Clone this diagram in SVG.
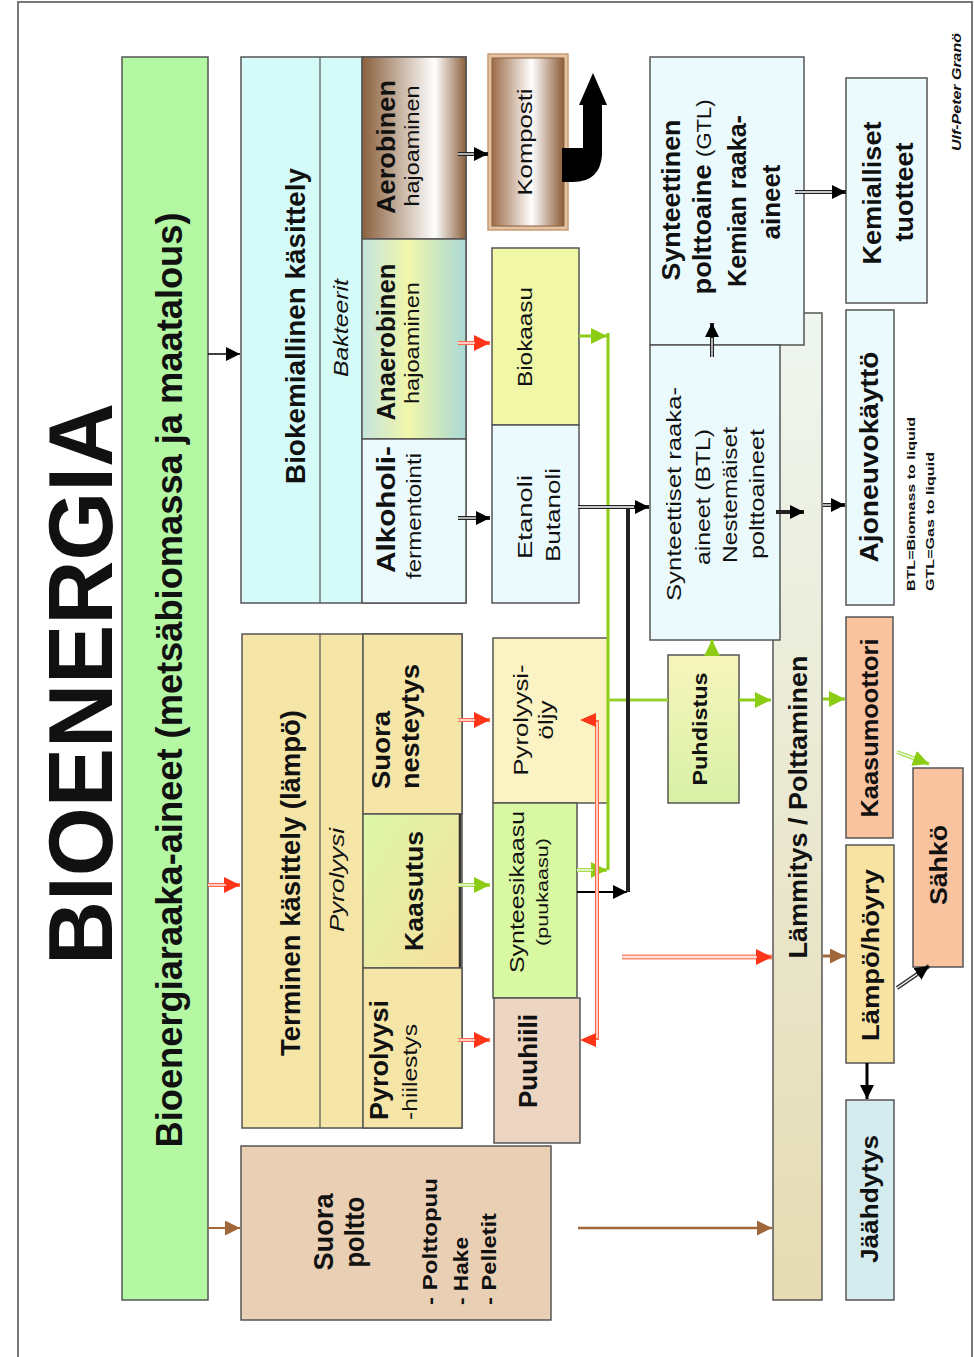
<svg xmlns="http://www.w3.org/2000/svg" width="974" height="1357" viewBox="0 0 974 1357">
<defs>
<style>
text{font-family:"Liberation Sans",Arial,sans-serif;fill:#111}
.b{font-weight:bold}
.i{font-style:italic}
.m{text-anchor:middle}
.box{stroke:#555;stroke-width:1.5}
.thin{stroke:#555;stroke-width:1.2}
.in{stroke:#fff;stroke-width:1.3;fill:none}
</style>
<linearGradient id="gAero" x1="0" y1="0" x2="1" y2="0">
<stop offset="0" stop-color="#8a603c"/><stop offset="0.7" stop-color="#ffffff"/><stop offset="1" stop-color="#8a603c"/>
</linearGradient>
<linearGradient id="gKomp" x1="0" y1="0" x2="1" y2="0">
<stop offset="0" stop-color="#9c6c48"/><stop offset="0.55" stop-color="#ffffff"/><stop offset="1" stop-color="#8c5c38"/>
</linearGradient>
<linearGradient id="gAnaer" x1="0" y1="0" x2="1" y2="0">
<stop offset="0" stop-color="#c4e4de"/><stop offset="0.45" stop-color="#f1f6aa"/><stop offset="1" stop-color="#a9d9d6"/>
</linearGradient>
<linearGradient id="gKaas" x1="0" y1="0" x2="1" y2="1">
<stop offset="0" stop-color="#dcf7a8"/><stop offset="1" stop-color="#f7dfa0"/>
</linearGradient>
<linearGradient id="gPuh" x1="0" y1="0" x2="0" y2="1">
<stop offset="0" stop-color="#f7f5bc"/><stop offset="1" stop-color="#d8f1a6"/>
</linearGradient>
<linearGradient id="gLamm" x1="0" y1="0" x2="0" y2="1">
<stop offset="0" stop-color="#eef6f0"/><stop offset="1" stop-color="#e6dbb2"/>
</linearGradient>
<marker id="hk" viewBox="0 0 14 14" refX="14" refY="7" markerWidth="14" markerHeight="14" markerUnits="userSpaceOnUse" orient="auto"><path d="M0,0 L14,7 L0,14 Z" fill="#000"/></marker>
<marker id="hr" viewBox="0 0 14 14" refX="14" refY="7" markerWidth="16" markerHeight="16" markerUnits="userSpaceOnUse" orient="auto"><path d="M0,0 L14,7 L0,14 Z" fill="#ff3418"/></marker>
<marker id="hg" viewBox="0 0 14 14" refX="14" refY="7" markerWidth="16" markerHeight="16" markerUnits="userSpaceOnUse" orient="auto"><path d="M0,0 L14,7 L0,14 Z" fill="#8ccc14"/></marker>
<marker id="hb" viewBox="0 0 14 14" refX="14" refY="7" markerWidth="15" markerHeight="15" markerUnits="userSpaceOnUse" orient="auto"><path d="M0,0 L14,7 L0,14 Z" fill="#a0683a"/></marker>
</defs>
<rect width="974" height="1357" fill="#fff"/>
<path d="M18,1357 V2 H972 V1357" fill="none" stroke="#777" stroke-width="2"/>

<g id="title">
<text class="b m" font-size="90" transform="translate(112,684) rotate(-90)" textLength="562" lengthAdjust="spacingAndGlyphs">BIOENERGIA</text>
</g>
<g id="author">
<text class="b i m" font-size="13" transform="translate(961,92) rotate(-90)" textLength="118" lengthAdjust="spacingAndGlyphs">Ulf-Peter Granö</text>
</g>

<g id="raaka-aineet">
<rect x="122" y="57" width="86" height="1243" fill="#b4f8a4" class="box"/>
<text class="b m" font-size="36" transform="translate(182,680) rotate(-90)" textLength="935" lengthAdjust="spacingAndGlyphs">Bioenergiaraaka-aineet (metsäbiomassa ja maatalous)</text>
</g>

<g id="biokemiallinen">
<rect x="241" y="57" width="225" height="546" fill="#d5fbf9" class="box"/>
<line x1="320" y1="57" x2="320" y2="603" class="thin"/>
<line x1="362" y1="57" x2="362" y2="603" class="thin"/>
<text class="b m" font-size="27" transform="translate(305,326) rotate(-90)" textLength="316" lengthAdjust="spacingAndGlyphs">Biokemiallinen käsittely</text>
<text class="i m" font-size="21" transform="translate(348,328) rotate(-90)" textLength="98" lengthAdjust="spacingAndGlyphs">Bakteerit</text>
</g>
<g id="aerobinen">
<rect x="362" y="57" width="104" height="182" fill="url(#gAero)" class="box"/>
<text class="b m" font-size="26" transform="translate(395,147) rotate(-90)" textLength="134" lengthAdjust="spacingAndGlyphs">Aerobinen</text>
<text class="m" font-size="21" transform="translate(419,146) rotate(-90)" textLength="121" lengthAdjust="spacingAndGlyphs">hajoaminen</text>
</g>
<g id="anaerobinen">
<rect x="362" y="239" width="104" height="200" fill="url(#gAnaer)" class="box"/>
<text class="b m" font-size="26" transform="translate(395,342) rotate(-90)" textLength="157" lengthAdjust="spacingAndGlyphs">Anaerobinen</text>
<text class="m" font-size="21" transform="translate(419,343) rotate(-90)" textLength="122" lengthAdjust="spacingAndGlyphs">hajoaminen</text>
</g>
<g id="alkoholi">
<rect x="362" y="439" width="104" height="164" fill="#ebfafd" class="box"/>
<text class="b" font-size="26" transform="translate(395,573) rotate(-90)" textLength="127" lengthAdjust="spacingAndGlyphs">Alkoholi-</text>
<text font-size="21" transform="translate(421,579) rotate(-90)" textLength="126" lengthAdjust="spacingAndGlyphs">fermentointi</text>
</g>

<g id="komposti">
<rect x="488" y="54" width="80" height="176" fill="#e2c4a4" stroke="#c89a72" stroke-width="1.5"/>
<rect x="492" y="58" width="72" height="168" fill="url(#gKomp)" stroke="#8a5c3a" stroke-width="1"/>
<text class="m" font-size="20" transform="translate(532,142) rotate(-90)" textLength="107" lengthAdjust="spacingAndGlyphs">Komposti</text>
</g>
<g id="biokaasu">
<rect x="492" y="248" width="87" height="177" fill="#f0f8a8" class="box"/>
<text class="m" font-size="20" transform="translate(532,337) rotate(-90)" textLength="100" lengthAdjust="spacingAndGlyphs">Biokaasu</text>
</g>
<g id="etanoli">
<rect x="492" y="425" width="87" height="178" fill="#ebfafd" class="box"/>
<text class="m" font-size="20" transform="translate(532,517) rotate(-90)" textLength="84" lengthAdjust="spacingAndGlyphs">Etanoli</text>
<text class="m" font-size="20" transform="translate(560,515) rotate(-90)" textLength="94" lengthAdjust="spacingAndGlyphs">Butanoli</text>
</g>

<g id="terminen">
<rect x="242" y="634" width="220" height="494" fill="#f5e6a8" class="box"/>
<line x1="320" y1="634" x2="320" y2="1128" class="thin"/>
<line x1="363" y1="634" x2="363" y2="1128" class="thin"/>
<text class="b m" font-size="27" transform="translate(300,883) rotate(-90)" textLength="346" lengthAdjust="spacingAndGlyphs">Terminen käsittely (lämpö)</text>
<text class="i m" font-size="21" transform="translate(344,880) rotate(-90)" textLength="104" lengthAdjust="spacingAndGlyphs">Pyrolyysi</text>
</g>
<g id="nesteytys">
<rect x="363" y="634" width="99" height="180" fill="#f5e6a8" class="box"/>
<text class="b" font-size="26" transform="translate(390,789) rotate(-90)" textLength="78" lengthAdjust="spacingAndGlyphs">Suora</text>
<text class="b" font-size="26" transform="translate(419,789) rotate(-90)" textLength="125" lengthAdjust="spacingAndGlyphs">nesteytys</text>
</g>
<g id="kaasutus">
<rect x="363" y="814" width="97" height="154" fill="url(#gKaas)" class="box"/>
<line x1="460" y1="814" x2="460" y2="968" stroke="#333" stroke-width="2.5"/>
<text class="b m" font-size="26" transform="translate(423,891) rotate(-90)" textLength="120" lengthAdjust="spacingAndGlyphs">Kaasutus</text>
</g>
<g id="hiilestys">
<rect x="363" y="968" width="99" height="160" fill="#f5e6a8" class="box"/>
<text class="b" font-size="26" transform="translate(388,1120) rotate(-90)" textLength="120" lengthAdjust="spacingAndGlyphs">Pyrolyysi</text>
<text font-size="21" transform="translate(417,1120) rotate(-90)" textLength="96" lengthAdjust="spacingAndGlyphs">-hiilestys</text>
</g>

<g id="pyrolyysioljy">
<rect x="493" y="638" width="115" height="165" fill="#fbf3c3" class="box"/>
<text class="m" font-size="20" transform="translate(528,720) rotate(-90)" textLength="111" lengthAdjust="spacingAndGlyphs">Pyrolyysi-</text>
<text class="m" font-size="20" transform="translate(553,720) rotate(-90)" textLength="39" lengthAdjust="spacingAndGlyphs">öljy</text>
</g>
<g id="synteesikaasu">
<rect x="493" y="803" width="84" height="195" fill="#d9f8a2" class="box"/>
<text class="m" font-size="20" transform="translate(524,892) rotate(-90)" textLength="162" lengthAdjust="spacingAndGlyphs">Synteesikaasu</text>
<text class="m" font-size="17" transform="translate(548,892) rotate(-90)" textLength="108" lengthAdjust="spacingAndGlyphs">(puukaasu)</text>
</g>
<g id="puuhiili">
<rect x="494" y="998" width="86" height="145" fill="#ecd6c2" class="box"/>
<text class="b m" font-size="25" transform="translate(537,1061) rotate(-90)" textLength="94" lengthAdjust="spacingAndGlyphs">Puuhiili</text>
</g>

<g id="suora-poltto">
<rect x="241" y="1146" width="310" height="174" fill="#e9cfb4" class="box"/>
<text class="b m" font-size="27" transform="translate(333,1232) rotate(-90)" textLength="77" lengthAdjust="spacingAndGlyphs">Suora</text>
<text class="b m" font-size="27" transform="translate(364,1232) rotate(-90)" textLength="71" lengthAdjust="spacingAndGlyphs">poltto</text>
<text class="b" font-size="20" transform="translate(437,1305) rotate(-90)" textLength="127" lengthAdjust="spacingAndGlyphs">- Polttopuu</text>
<text class="b" font-size="20" transform="translate(468,1305) rotate(-90)" textLength="68" lengthAdjust="spacingAndGlyphs">- Hake</text>
<text class="b" font-size="20" transform="translate(496,1305) rotate(-90)" textLength="92" lengthAdjust="spacingAndGlyphs">- Pelletit</text>
</g>

<g id="lammitys">
<rect x="773" y="313" width="49" height="987" fill="url(#gLamm)" class="box"/>
<text class="b m" font-size="25" transform="translate(807,807) rotate(-90)" textLength="303" lengthAdjust="spacingAndGlyphs">Lämmitys / Polttaminen</text>
</g>
<g id="gtl">
<rect x="650" y="57" width="154" height="288" fill="#ebfafd" class="box"/>
<text class="b m" font-size="26" transform="translate(680,200) rotate(-90)" textLength="161" lengthAdjust="spacingAndGlyphs">Synteettinen</text>
<text class="b m" font-size="26" transform="translate(711,197) rotate(-90)" textLength="195" lengthAdjust="spacingAndGlyphs">polttoaine <tspan font-weight="normal" font-size="21">(GTL)</tspan></text>
<text class="b m" font-size="26" transform="translate(746,201) rotate(-90)" textLength="172" lengthAdjust="spacingAndGlyphs">Kemian raaka-</text>
<text class="b m" font-size="26" transform="translate(780,202) rotate(-90)" textLength="75" lengthAdjust="spacingAndGlyphs">aineet</text>
</g>
<g id="btl">
<rect x="650" y="345" width="130" height="295" fill="#ebfafd" class="box"/>
<text class="m" font-size="21" transform="translate(681,494) rotate(-90)" textLength="214" lengthAdjust="spacingAndGlyphs">Synteettiset raaka-</text>
<text class="m" font-size="21" transform="translate(710,497) rotate(-90)" textLength="136" lengthAdjust="spacingAndGlyphs">aineet (BTL)</text>
<text class="m" font-size="21" transform="translate(737,495) rotate(-90)" textLength="136" lengthAdjust="spacingAndGlyphs">Nestemäiset</text>
<text class="m" font-size="21" transform="translate(764,494) rotate(-90)" textLength="130" lengthAdjust="spacingAndGlyphs">polttoaineet</text>
</g>
<g id="puhdistus">
<rect x="668" y="655" width="71" height="148" fill="url(#gPuh)" class="box"/>
<text class="b m" font-size="20" transform="translate(707,729) rotate(-90)" textLength="113" lengthAdjust="spacingAndGlyphs">Puhdistus</text>
</g>
<g id="kemialliset">
<rect x="846" y="78" width="81" height="225" fill="#ebfafd" class="box"/>
<text class="b m" font-size="26" transform="translate(881,193) rotate(-90)" textLength="143" lengthAdjust="spacingAndGlyphs">Kemialliset</text>
<text class="b m" font-size="26" transform="translate(913,192) rotate(-90)" textLength="99" lengthAdjust="spacingAndGlyphs">tuotteet</text>
</g>
<g id="ajoneuvo">
<rect x="846" y="310" width="48" height="295" fill="#ebfafd" class="box"/>
<text class="b m" font-size="26" transform="translate(878,457) rotate(-90)" textLength="211" lengthAdjust="spacingAndGlyphs">Ajoneuvokäyttö</text>
</g>
<g id="selite">
<text class="b" font-size="11" transform="translate(915,591) rotate(-90)" textLength="174" lengthAdjust="spacingAndGlyphs">BTL=Biomass to liquid</text>
<text class="b" font-size="11" transform="translate(934,591) rotate(-90)" textLength="139" lengthAdjust="spacingAndGlyphs">GTL=Gas to liquid</text>
</g>
<g id="kaasumoottori">
<rect x="846" y="617" width="47" height="221" fill="#f9c3a0" class="box"/>
<text class="b m" font-size="24" transform="translate(878,728) rotate(-90)" textLength="179" lengthAdjust="spacingAndGlyphs">Kaasumoottori</text>
</g>
<g id="lampo">
<rect x="846" y="845" width="48" height="218" fill="#f9e3a2" class="box"/>
<text class="b m" font-size="24" transform="translate(879,955) rotate(-90)" textLength="172" lengthAdjust="spacingAndGlyphs">Lämpö/höyry</text>
</g>
<g id="jaahdytys">
<rect x="846" y="1100" width="48" height="200" fill="#d4eced" class="box"/>
<text class="b m" font-size="24" transform="translate(878,1199) rotate(-90)" textLength="128" lengthAdjust="spacingAndGlyphs">Jäähdytys</text>
</g>
<g id="sahko">
<rect x="913" y="768" width="50" height="199" fill="#f9c3a0" class="box"/>
<text class="b m" font-size="24" transform="translate(947,865) rotate(-90)" textLength="80" lengthAdjust="spacingAndGlyphs">Sähkö</text>
</g>

<g id="connectors" fill="none">
<!-- from raw materials -->
<line x1="208" y1="354" x2="240" y2="354" stroke="#000" stroke-width="1.5" marker-end="url(#hk)"/>
<line x1="208" y1="885" x2="240" y2="885" stroke="#ff6a4a" stroke-width="4" marker-end="url(#hr)"/>
<line x1="208" y1="885" x2="226" y2="885" class="in"/>
<line x1="208" y1="1228" x2="240" y2="1228" stroke="#a0683a" stroke-width="2" marker-end="url(#hb)"/>
<!-- biochemical outputs -->
<line x1="458" y1="154" x2="488" y2="154" stroke="#222" stroke-width="4" marker-end="url(#hk)"/>
<line x1="458" y1="154" x2="474" y2="154" class="in"/>
<line x1="458" y1="343" x2="490" y2="343" stroke="#ff6a4a" stroke-width="4" marker-end="url(#hr)"/>
<line x1="458" y1="343" x2="475" y2="343" class="in"/>
<line x1="458" y1="518" x2="490" y2="518" stroke="#222" stroke-width="4" marker-end="url(#hk)"/>
<line x1="458" y1="518" x2="476" y2="518" class="in"/>
<path d="M562,148 L583,148 L583,105 L579,105 L593,73 L607,105 L602,105 L602,155 Q600,182 573,182 L562,182 Z" fill="#000" stroke="none"/>
<!-- thermal outputs -->
<line x1="458" y1="720" x2="490" y2="720" stroke="#ff6a4a" stroke-width="4" marker-end="url(#hr)"/>
<line x1="458" y1="720" x2="475" y2="720" class="in"/>
<line x1="458" y1="885" x2="490" y2="885" stroke="#a8dc50" stroke-width="4" marker-end="url(#hg)"/>
<line x1="458" y1="885" x2="475" y2="885" class="in"/>
<line x1="458" y1="1040" x2="490" y2="1040" stroke="#ff6a4a" stroke-width="4" marker-end="url(#hr)"/>
<line x1="458" y1="1040" x2="475" y2="1040" class="in"/>
<!-- green gas trunk -->
<path d="M608,333 V870" stroke="#8ccc14" stroke-width="3"/>
<path d="M608,700 H668" stroke="#9ad030" stroke-width="3"/>
<line x1="579" y1="336" x2="607" y2="336" stroke="#8ccc14" stroke-width="3" marker-end="url(#hg)"/>
<line x1="577" y1="870" x2="607" y2="870" stroke="#a8dc50" stroke-width="4" marker-end="url(#hg)"/>
<line x1="577" y1="870" x2="593" y2="870" class="in"/>
<line x1="739" y1="700" x2="771" y2="700" stroke="#8ccc14" stroke-width="3" marker-end="url(#hg)"/>
<line x1="712" y1="655" x2="712" y2="640" stroke="#8ccc14" stroke-width="3" marker-end="url(#hg)"/>
<!-- black liquid trunk -->
<path d="M628,892 V507" stroke="#222" stroke-width="4"/>
<line x1="578" y1="507" x2="649" y2="507" stroke="#222" stroke-width="4" marker-end="url(#hk)"/>
<line x1="578" y1="507" x2="634" y2="507" class="in"/>
<line x1="577" y1="892" x2="627" y2="892" stroke="#000" stroke-width="2" marker-end="url(#hk)"/>
<!-- red char/oil links -->
<path d="M597,720 V1040" stroke="#ff6a4a" stroke-width="4"/>
<path d="M597,722 V1038" class="in"/>
<path d="M580,720 L596,713 L596,727 Z" fill="#ff3418"/>
<path d="M580,1040 L596,1033 L596,1047 Z" fill="#ff3418"/>
<line x1="622" y1="957" x2="772" y2="957" stroke="#ff8a70" stroke-width="5" marker-end="url(#hr)"/>
<line x1="622" y1="957" x2="757" y2="957" stroke="#fff" stroke-width="1.5"/>
<line x1="578" y1="1228" x2="772" y2="1228" stroke="#a0683a" stroke-width="2.5" marker-end="url(#hb)"/>
<!-- synthetic fuels -->
<line x1="712" y1="357" x2="712" y2="323" stroke="#222" stroke-width="4" marker-end="url(#hk)"/>
<line x1="712" y1="357" x2="712" y2="338" class="in"/>
<line x1="795" y1="192" x2="846" y2="192" stroke="#222" stroke-width="4" marker-end="url(#hk)"/>
<line x1="795" y1="192" x2="832" y2="192" class="in"/>
<line x1="776" y1="512" x2="804" y2="512" stroke="#222" stroke-width="4" marker-end="url(#hk)"/>
<line x1="823" y1="505" x2="845" y2="505" stroke="#222" stroke-width="4" marker-end="url(#hk)"/>
<line x1="823" y1="505" x2="831" y2="505" class="in"/>
<!-- energy outputs -->
<line x1="823" y1="699" x2="845" y2="699" stroke="#8ccc14" stroke-width="3" marker-end="url(#hg)"/>
<line x1="823" y1="956" x2="845" y2="956" stroke="#a0683a" stroke-width="3" marker-end="url(#hb)"/>
<line x1="897" y1="752" x2="929" y2="764" stroke="#a8dc50" stroke-width="4" marker-end="url(#hg)"/>
<line x1="897" y1="752" x2="914" y2="758.4" class="in"/>
<line x1="897" y1="988" x2="929" y2="966" stroke="#333" stroke-width="4" marker-end="url(#hk)"/>
<line x1="897" y1="988" x2="917" y2="974.2" class="in"/>
<line x1="867" y1="1063" x2="867" y2="1099" stroke="#000" stroke-width="3" marker-end="url(#hk)"/>
</g>
</svg>
